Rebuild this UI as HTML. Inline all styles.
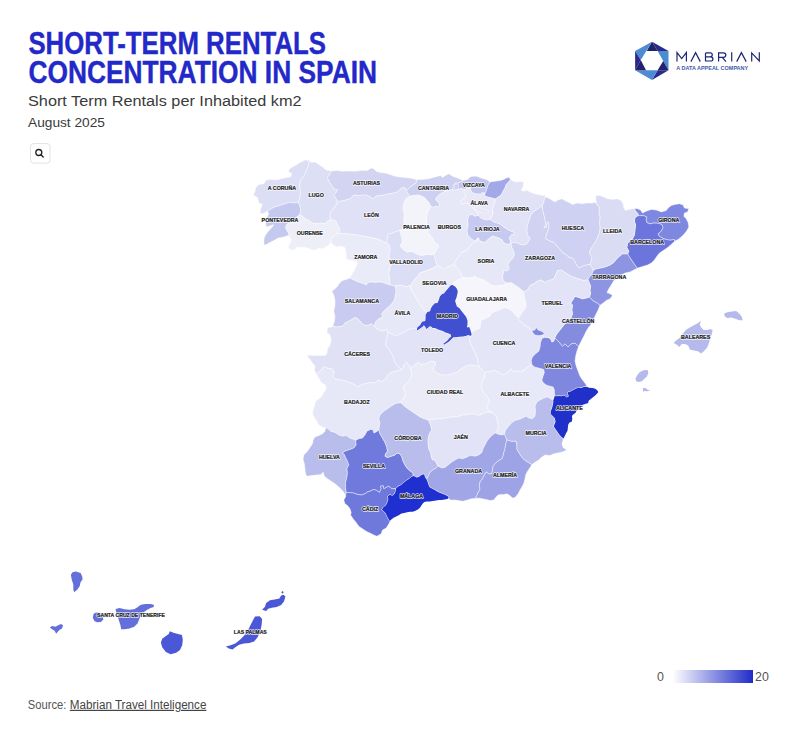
<!DOCTYPE html>
<html lang="en">
<head>
<meta charset="utf-8">
<title>Short-term rentals concentration in Spain</title>
<style>
html,body{margin:0;padding:0;background:#fff;}
body{width:800px;height:738px;overflow:hidden;position:relative;font-family:"Liberation Sans",sans-serif;}
svg{position:absolute;left:0;top:0;display:block;}
svg text{font-family:"Liberation Sans",sans-serif;}
.prov path{stroke:#fff;stroke-width:0.5;stroke-opacity:.85;stroke-linejoin:round;}
.prov path.dk{stroke-width:0.9;paint-order:stroke fill;}
.isl path{stroke:none;}
.lab text{font-size:6.1px;font-weight:700;text-anchor:middle;stroke-linejoin:round;}
.halo text{fill:#fff;stroke:#fff;stroke-width:1.7px;opacity:.8;}
.ink text{fill:#161616;stroke:#161616;stroke-width:.18px;}
</style>
</head>
<body>
<svg width="800" height="738" viewBox="0 0 800 738">
<defs>
<linearGradient id="lg" x1="0" x2="1" y1="0" y2="0">
<stop offset="0" stop-color="#ffffff"/><stop offset="1" stop-color="#1f2cc8"/>
</linearGradient>
</defs>
<!-- header -->
<g id="hdr">
<text id="t1" stroke="#2328c9" stroke-width="0.4" x="28.4" y="53.9" font-size="32" font-weight="700" fill="#2328c9" textLength="297.6" lengthAdjust="spacingAndGlyphs">SHORT-TERM RENTALS</text>
<text id="t2" stroke="#2328c9" stroke-width="0.4" x="28.4" y="82.8" font-size="32" font-weight="700" fill="#2328c9" textLength="348.6" lengthAdjust="spacingAndGlyphs">CONCENTRATION IN SPAIN</text>
<text id="t3" x="28" y="105.6" font-size="15.2" fill="#3a3a3a" textLength="273.5" lengthAdjust="spacingAndGlyphs">Short Term Rentals per Inhabited km2</text>
<text id="t4" x="28" y="126.6" font-size="12.6" fill="#3a3a3a" textLength="77" lengthAdjust="spacingAndGlyphs">August 2025</text>
</g>
<!-- search button -->
<g id="srch">
<rect x="30.5" y="143.6" width="19.5" height="19.5" rx="3" fill="#fff" stroke="#e2e2e2" stroke-width="1"/>
<circle cx="38.8" cy="152.5" r="3" fill="none" stroke="#222" stroke-width="1.3"/>
<path d="M41 154.8L43.2 156.9" stroke="#222" stroke-width="1.4" stroke-linecap="round"/>
</g>
<!-- logo -->
<g id="logo">
<polygon points="635.1,51.1 652,41.75 640.75,60.1" fill="#4d8bd3"/>
<polygon points="652,41.75 646.75,51.1 657.6,51.1" fill="#23236c"/>
<polygon points="652,41.75 668.5,51.1 657.6,51.1" fill="#2a2a8e"/>
<polygon points="657.6,51.1 668.5,51.1 668.5,70.25" fill="#4d8bd3"/>
<polygon points="663.25,60.9 668.5,70.25 657.6,70.25" fill="#23236c"/>
<polygon points="668.5,70.25 652,80 657.6,70.25" fill="#2a2a8e"/>
<polygon points="652,80 635.1,70.25 657.6,70.25" fill="#4d8bd3"/>
<polygon points="646,70.25 635.1,70.25 640.75,60.1" fill="#23236c"/>
<polygon points="635.1,70.25 635.1,51.1 640.75,60.1" fill="#2a2a8e"/>
<g fill="none" stroke="#1b2774" stroke-width="1.2" stroke-linejoin="miter" stroke-linecap="butt">
<path d="M677 61.6V52.6L681.7 58.6L686.4 52.6V61.6"/>
<path d="M690.9 61.6L695.6 52.6L700.3 61.6"/>
<path d="M705.5 52.9V61H710.6Q712.9 61 712.9 58.9Q712.9 56.8 710.6 56.8H705.5M705.5 52.9H710.2Q712.3 52.9 712.3 54.85Q712.3 56.8 710.2 56.8"/>
<path d="M718.6 61.6V52.9H723.4Q725.8 52.9 725.8 55.1Q725.8 57.3 723.4 57.3H718.6M722.3 57.3L726 61.6"/>
<path d="M731.7 52.3V61.6"/>
<path d="M736.7 61.6L741.4 52.6L746.2 61.6"/>
<path d="M751.7 61.6V52.9L759.3 61V52.3"/>
</g>
<text x="676.2" y="70" font-size="5.2" font-weight="700" fill="#3f5aa6" textLength="72" lengthAdjust="spacingAndGlyphs">A DATA APPEAL COMPANY</text>
</g>
<!-- map -->
<g class="prov">
<path d="M309.4,160.6 305.0,160.0 300.0,162.5 296.2,165.0 292.5,166.9 288.8,169.4 288.8,171.9 291.9,173.8 290.6,176.9 286.2,177.5 281.2,178.8 276.9,180.0 271.2,179.4 266.2,180.0 263.8,183.8 258.8,184.4 255.6,188.1 255.0,191.9 253.1,195.0 257.5,197.5 258.8,203.1 262.5,204.4 260.6,208.8 260.0,213.1 263.1,213.8 267.5,211.2 271.2,208.8 275.0,206.9 280.0,205.6 285.0,203.8 290.0,202.2 293.8,203.1 298.1,202.5 300.0,197.5 300.6,192.5 299.4,186.2 300.6,180.0 303.8,176.2 306.2,171.2 308.1,166.2Z" fill="#dcdef5"/>
<path d="M309.4,160.6 311.2,162.5 315.0,161.9 318.8,164.4 322.5,166.9 326.2,170.0 331.5,170.9 330.0,173.8 327.5,177.5 329.4,181.9 331.9,185.6 335.0,190.0 337.5,189.4 336.2,192.5 333.8,195.0 336.2,198.8 337.5,201.5 336.2,205.0 333.8,208.8 331.2,211.2 330.0,215.0 330.6,219.4 327.5,221.2 325.0,223.8 321.2,223.1 317.5,223.8 312.5,223.1 308.8,220.6 305.0,218.8 302.5,216.2 299.4,215.0 300.2,212.5 300.6,208.8 299.0,204.4 298.1,202.5 300.0,197.5 300.6,192.5 299.4,186.2 300.6,180.0 303.8,176.2 306.2,171.2 308.1,166.2Z" fill="#dddff5"/>
<path d="M267.5,211.2 271.2,208.8 275.0,206.9 280.0,205.6 285.0,203.8 290.0,202.2 293.8,203.1 298.1,202.5 299.0,204.4 300.6,208.8 300.2,212.5 299.4,215.0 296.2,217.5 291.2,221.2 286.9,224.4 285.6,227.5 286.9,230.6 288.8,233.1 288.8,235.2 283.8,236.9 278.1,238.1 273.8,240.6 268.8,243.1 264.4,245.6 263.8,241.2 264.4,236.9 266.9,233.1 270.0,229.4 271.9,227.5 273.8,224.4 271.2,225.6 266.2,226.9 265.6,221.2 267.5,216.2 268.8,213.8Z" fill="#c5c8ef"/>
<path d="M330.6,219.4 327.5,221.2 325.0,223.8 321.2,223.1 317.5,223.8 312.5,223.1 308.8,220.6 305.0,218.8 302.5,216.2 299.4,215.0 296.2,217.5 291.2,221.2 286.9,224.4 285.6,227.5 286.9,230.6 288.8,233.1 288.8,235.2 291.2,240.0 290.0,243.1 288.1,246.2 290.0,250.0 293.8,250.0 297.5,246.9 300.0,247.5 303.8,246.9 307.5,248.1 311.2,249.4 315.0,250.6 318.8,248.1 322.5,248.8 326.2,246.9 329.4,244.4 330.6,241.9 331.9,237.5 335.0,235.0 338.8,233.1 340.0,228.8 337.5,225.0 336.2,221.2 333.8,220.0Z" fill="#eeeef9"/>
<path d="M331.5,170.9 337.5,170.6 342.5,171.2 348.8,171.0 355.0,171.2 361.2,170.6 367.5,170.6 371.2,168.1 373.8,168.8 376.2,171.2 380.0,172.5 385.0,173.1 390.0,174.4 395.0,176.2 400.0,176.9 405.0,177.5 410.0,178.1 416.5,179.6 416.2,183.1 413.1,185.0 410.0,186.9 406.5,191.0 405.0,188.1 403.1,187.5 400.0,189.4 397.5,191.9 393.8,193.1 388.8,193.8 385.0,195.0 380.0,195.6 376.2,196.2 373.1,198.8 370.0,196.9 366.2,195.0 362.5,195.0 358.8,195.6 353.8,195.0 350.0,198.8 343.8,200.6 337.5,201.5 336.2,198.8 333.8,195.0 336.2,192.5 337.5,189.4 335.0,190.0 331.9,185.6 329.4,181.9 327.5,177.5 330.0,173.8Z" fill="#d2d4f2"/>
<path d="M337.5,201.5 343.8,200.6 350.0,198.8 353.8,195.0 358.8,195.6 362.5,195.0 366.2,195.0 370.0,196.9 373.1,198.8 376.2,196.2 380.0,195.6 385.0,195.0 388.8,193.8 393.8,193.1 397.5,191.9 400.0,189.4 403.1,187.5 405.0,188.1 406.5,191.0 408.1,193.8 410.0,196.2 406.2,198.8 403.8,203.8 403.1,208.8 404.4,213.8 403.8,220.0 404.4,225.0 401.9,230.0 398.8,230.6 392.5,233.1 388.8,233.8 387.5,236.2 386.9,242.5 387.0,243.0 385.0,242.5 381.2,240.6 376.2,238.8 370.0,237.5 363.8,236.2 357.5,235.0 351.2,234.4 345.0,233.8 338.8,233.1 340.0,228.8 337.5,225.0 336.2,221.2 333.8,220.0 330.6,219.4 330.0,215.0 331.2,211.2 333.8,208.8 336.2,205.0Z" fill="#e0e1f6"/>
<path d="M416.5,179.6 422.5,179.4 428.8,178.8 435.0,176.9 440.6,175.6 442.5,177.5 446.2,175.0 448.8,173.8 452.5,176.2 457.5,178.1 461.2,179.4 463.2,180.4 460.0,182.6 455.0,183.4 453.5,185.2 453.0,189.8 451.2,190.0 447.5,190.6 443.8,191.9 440.6,193.8 436.9,196.9 435.6,200.0 438.1,201.9 440.0,205.0 438.1,206.9 435.0,206.2 433.8,207.5 430.6,206.2 428.8,202.5 427.5,201.2 425.0,198.1 421.9,196.2 417.5,195.0 413.8,195.6 410.0,196.2 408.1,193.8 406.5,191.0 410.0,186.9 413.1,185.0 416.2,183.1Z" fill="#cdd0f1"/>
<path d="M463.2,180.4 465.5,180.0 468.1,179.2 470.0,177.0 473.0,176.2 476.8,176.2 480.5,177.8 484.2,178.9 487.2,180.0 490.0,181.9 488.1,185.0 486.9,188.8 485.6,192.5 484.0,195.5 485.0,193.1 482.0,192.8 480.5,194.2 476.0,193.9 472.2,192.8 470.8,190.5 470.0,187.5 468.5,188.2 464.0,189.5 461.4,188.5 456.0,190.0 451.2,190.0 453.0,189.8 453.5,185.2 455.0,183.4 460.0,182.6Z" fill="#c2c6ef"/>
<path d="M490.0,181.9 495.0,181.2 500.0,180.6 503.8,179.4 506.2,178.1 508.8,177.2 510.6,179.4 508.8,181.9 506.2,184.4 505.0,188.1 503.1,191.2 501.2,195.0 497.5,197.5 495.5,199.0 491.5,198.0 487.5,197.0 484.0,195.5 485.6,192.5 486.9,188.8 488.1,185.0Z" fill="#a3a9e8"/>
<path d="M464.0,189.5 468.5,188.2 470.0,187.5 470.8,190.5 472.2,192.8 476.0,193.9 480.5,194.2 482.0,192.8 485.0,193.1 484.0,195.5 487.5,197.0 491.5,198.0 495.5,199.0 494.4,203.8 492.5,208.8 493.1,213.8 491.2,217.5 490.5,219.5 487.5,220.0 483.8,219.4 480.0,217.5 478.8,215.6 476.0,211.0 472.0,207.0 468.0,203.5 465.0,203.0 462.0,204.5 460.0,202.0 462.0,199.5 465.0,198.0 466.0,195.0 464.0,192.5Z" fill="#e8e8f7"/>
<path d="M478.8,215.6 480.0,217.5 483.8,219.4 487.5,220.0 490.5,219.5 493.8,221.9 497.5,223.1 500.6,224.4 503.8,226.9 507.5,229.4 511.2,231.2 514.4,232.5 515.0,233.8 511.2,235.0 509.4,238.1 511.0,242.5 508.8,244.4 505.0,243.8 502.5,241.2 502.5,240.0 497.5,237.5 492.5,236.2 488.8,238.8 485.0,242.5 480.0,241.2 478.1,237.8 475.0,241.2 471.2,238.8 467.5,235.0 466.9,230.0 468.1,225.0 467.5,220.0 468.8,215.0 472.5,214.4 475.0,216.2 478.1,215.0Z" fill="#c6c9f0"/>
<path d="M510.6,179.4 513.1,181.2 516.9,181.9 521.2,181.2 523.8,182.5 523.1,186.9 521.2,190.0 523.8,191.2 526.2,190.0 530.0,191.9 535.0,193.8 540.0,195.0 543.8,195.6 545.6,195.0 545.0,196.9 544.4,198.8 543.8,202.5 542.5,205.0 542.2,205.6 540.0,207.5 536.2,210.0 533.1,212.5 530.6,215.6 529.4,220.0 527.5,225.0 526.9,230.0 527.5,235.0 530.0,238.1 528.8,241.2 526.2,244.4 521.2,245.0 517.5,243.1 513.8,242.5 511.0,242.5 509.4,238.1 511.2,235.0 515.0,233.8 514.4,232.5 511.2,231.2 507.5,229.4 503.8,226.9 500.6,224.4 497.5,223.1 493.8,221.9 490.5,219.5 491.2,217.5 493.1,213.8 492.5,208.8 494.4,203.8 495.5,199.0 497.5,197.5 501.2,195.0 503.1,191.2 505.0,188.1 506.2,184.4 508.8,181.9Z" fill="#e1e2f6"/>
<path d="M451.2,190.0 447.5,190.6 443.8,191.9 440.6,193.8 436.9,196.9 435.6,200.0 438.1,201.9 440.0,205.0 438.1,206.9 435.0,206.2 433.8,207.5 430.6,206.2 428.1,211.2 426.2,217.5 426.9,225.0 428.1,230.0 428.1,232.5 430.6,236.2 433.1,238.8 434.4,242.5 437.5,244.4 438.8,246.2 436.2,250.0 434.4,253.8 435.0,258.8 436.2,263.1 437.5,265.6 441.2,267.5 444.4,269.4 447.5,266.9 451.2,265.6 453.8,264.0 456.2,260.0 458.8,256.9 461.2,252.5 465.0,251.2 468.1,248.8 470.6,245.6 473.1,242.5 477.5,240.6 478.1,237.8 475.0,241.2 471.2,238.8 467.5,235.0 466.9,230.0 468.1,225.0 467.5,220.0 468.8,215.0 472.5,214.4 475.0,216.2 478.1,215.0 478.8,215.6 476.0,211.0 472.0,207.0 468.0,203.5 465.0,203.0 462.0,204.5 460.0,202.0 462.0,199.5 465.0,198.0 466.0,195.0 464.0,192.5 464.0,189.5 461.4,188.5 456.0,190.0Z" fill="#e6e7f7"/>
<path d="M410.0,196.2 406.2,198.8 403.8,203.8 403.1,208.8 404.4,213.8 403.8,220.0 404.4,225.0 401.9,230.0 398.8,230.6 400.0,231.2 401.2,236.2 402.5,241.2 400.0,246.2 403.8,250.0 407.5,252.5 411.2,251.2 415.0,253.1 418.8,255.0 422.5,255.6 427.5,254.4 432.5,255.0 434.4,253.8 436.2,250.0 438.8,246.2 437.5,244.4 434.4,242.5 433.1,238.8 430.6,236.2 428.1,232.5 428.1,230.0 426.9,225.0 426.2,217.5 428.1,211.2 430.6,206.2 428.8,202.5 427.5,201.2 425.0,198.1 421.9,196.2 417.5,195.0 413.8,195.6Z" fill="#f3f3fa"/>
<path d="M398.8,230.6 400.0,231.2 401.2,236.2 402.5,241.2 400.0,246.2 403.8,250.0 407.5,252.5 411.2,251.2 415.0,253.1 418.8,255.0 422.5,255.6 427.5,254.4 432.5,255.0 434.4,253.8 435.0,258.8 436.2,263.1 437.5,265.6 433.8,267.5 430.0,269.4 425.0,271.2 420.0,273.1 418.1,276.2 415.0,278.8 412.5,282.5 410.0,285.6 406.2,286.9 401.2,285.0 397.5,285.6 395.0,286.2 392.5,285.6 390.0,285.0 389.4,280.0 388.8,273.8 389.4,268.8 391.2,265.0 389.4,260.0 388.8,255.0 390.0,250.0 389.4,245.0 387.0,243.0 386.9,242.5 387.5,236.2 388.8,233.8 392.5,233.1Z" fill="#dcdef5"/>
<path d="M338.8,233.1 345.0,233.8 351.2,234.4 357.5,235.0 363.8,236.2 370.0,237.5 376.2,238.8 381.2,240.6 385.0,242.5 387.0,243.0 389.4,245.0 390.0,250.0 388.8,255.0 389.4,260.0 391.2,265.0 389.4,268.8 388.8,273.8 389.4,280.0 390.0,285.0 386.2,283.8 382.5,282.5 378.8,281.9 375.0,282.5 371.2,281.9 368.1,282.5 366.2,285.0 363.8,283.8 360.0,282.5 356.2,281.2 352.5,279.4 350.0,278.1 351.2,275.0 353.8,271.2 355.6,267.5 357.5,263.8 356.2,261.2 352.5,260.6 348.8,260.0 346.2,258.8 346.2,255.0 345.6,251.2 345.0,247.5 341.2,246.2 337.5,246.9 333.8,245.6 331.2,242.5 330.6,241.9 331.9,237.5 335.0,235.0Z" fill="#eaebf8"/>
<path d="M350.0,278.1 352.5,279.4 356.2,281.2 360.0,282.5 363.8,283.8 366.2,285.0 368.1,282.5 371.2,281.9 375.0,282.5 378.8,281.9 382.5,282.5 386.2,283.8 390.0,285.0 392.5,285.6 395.0,286.2 396.2,290.0 395.6,295.0 394.4,300.0 391.9,303.8 389.4,306.2 386.2,308.8 383.8,311.2 381.9,313.8 382.5,317.5 378.8,318.8 375.0,322.5 374.6,326.5 371.2,323.8 367.5,325.6 363.8,325.0 360.6,321.9 358.1,318.8 355.0,317.5 350.0,320.6 345.0,323.1 342.5,326.2 337.5,326.9 332.8,326.5 334.4,321.2 335.0,316.2 333.8,311.2 335.0,305.0 335.0,300.0 333.8,295.0 331.9,291.2 335.0,288.8 337.5,286.2 340.0,282.5 342.5,280.6 346.2,279.4Z" fill="#c9ccf0"/>
<path d="M395.0,286.2 397.5,285.6 401.2,285.0 406.2,286.9 410.0,285.6 411.2,290.0 413.8,293.8 416.2,298.1 418.8,302.5 421.2,306.2 423.8,310.0 426.5,311.2 427.4,312.1 425.6,314.8 425.6,317.9 425.2,320.9 422.1,321.8 420.8,324.0 419.5,325.8 417.7,327.1 416.8,329.3 417.3,330.4 417.5,330.0 414.4,328.1 411.2,328.8 407.5,330.0 403.8,332.5 400.0,333.8 396.2,336.2 392.5,334.4 388.8,332.5 387.7,332.0 386.2,329.4 382.5,331.2 377.5,329.4 374.6,326.5 375.0,322.5 378.8,318.8 382.5,317.5 381.9,313.8 383.8,311.2 386.2,308.8 389.4,306.2 391.9,303.8 394.4,300.0 395.6,295.0 396.2,290.0Z" fill="#e6e7f7"/>
<path d="M437.5,265.6 441.2,267.5 444.4,269.4 447.5,266.9 451.2,265.6 453.8,264.0 456.2,266.9 458.8,270.0 461.2,273.8 462.5,277.5 458.8,279.4 455.0,281.9 452.2,285.0 450.3,285.7 448.5,287.9 446.3,290.6 444.1,293.2 441.5,294.5 439.7,296.7 438.9,299.8 437.5,302.9 434.9,303.3 432.7,305.5 430.9,308.2 430.1,311.3 427.4,312.1 426.5,311.2 423.8,310.0 421.2,306.2 418.8,302.5 416.2,298.1 413.8,293.8 411.2,290.0 410.0,285.6 412.5,282.5 415.0,278.8 418.1,276.2 420.0,273.1 425.0,271.2 430.0,269.4 433.8,267.5Z" fill="#ebebf8"/>
<path d="M453.8,264.0 456.2,260.0 458.8,256.9 461.2,252.5 465.0,251.2 468.1,248.8 470.6,245.6 473.1,242.5 477.5,240.6 478.1,237.8 480.0,241.2 485.0,242.5 488.8,238.8 492.5,236.2 497.5,237.5 502.5,240.0 502.5,241.2 505.0,243.8 508.8,244.4 511.0,242.5 511.9,247.5 513.8,251.2 514.4,255.0 512.5,258.8 510.0,261.2 508.1,264.4 509.4,268.8 506.9,271.2 504.4,270.0 503.1,273.8 502.5,277.5 503.8,281.2 506.9,283.1 503.8,285.0 500.0,285.6 495.0,286.2 491.2,285.0 487.5,282.5 483.8,280.0 477.5,278.1 475.0,276.2 472.5,277.5 467.5,278.1 462.5,277.5 461.2,273.8 458.8,270.0 456.2,266.9Z" fill="#e7e8f7"/>
<path d="M452.2,285.0 455.0,281.9 458.8,279.4 462.5,277.5 467.5,278.1 472.5,277.5 475.0,276.2 477.5,278.1 483.8,280.0 487.5,282.5 491.2,285.0 495.0,286.2 500.0,285.6 503.8,285.0 506.9,283.1 511.2,282.5 515.0,285.0 518.8,287.5 521.9,290.0 523.8,291.9 524.4,296.2 525.6,301.2 526.2,306.2 524.4,310.0 521.9,312.5 520.0,316.2 518.1,317.5 515.0,315.0 512.5,311.2 508.8,308.8 505.0,307.5 500.0,309.4 496.2,311.2 491.2,313.1 490.0,316.2 485.0,318.8 481.2,320.0 480.6,323.8 480.0,328.1 476.2,330.0 472.5,331.5 471.7,334.6 470.6,330.6 469.2,327.1 467.0,327.5 467.5,324.0 467.5,320.5 466.2,317.0 463.9,313.9 461.3,310.8 459.5,308.2 456.9,306.4 456.0,303.8 455.1,301.1 456.5,297.6 457.3,294.1 457.8,291.4 456.9,288.8 455.1,286.6Z" fill="#f5f5fb"/>
<path d="M387.7,332.0 388.8,332.5 392.5,334.4 396.2,336.2 400.0,333.8 403.8,332.5 407.5,330.0 411.2,328.8 414.4,328.1 417.5,330.0 417.3,330.4 419.0,329.3 420.8,328.0 422.6,326.7 423.9,325.3 425.2,326.7 426.5,328.9 427.8,328.0 429.6,326.2 431.4,326.7 432.7,328.0 434.9,328.0 437.5,329.3 440.2,330.2 442.8,331.1 445.5,332.4 448.1,333.3 450.7,334.6 451.2,336.4 449.4,338.1 447.2,340.8 445.0,342.5 443.3,343.8 444.1,344.7 445.9,343.4 447.7,342.5 449.9,340.8 452.1,338.6 453.4,337.2 456.0,337.2 459.5,336.8 463.1,336.4 465.7,335.9 468.4,335.0 470.6,335.9 469.4,338.8 470.6,343.8 473.1,348.8 475.6,353.8 477.5,358.8 478.1,363.8 480.0,367.5 477.5,366.2 472.5,365.0 467.5,365.6 462.5,368.1 457.5,371.9 452.5,373.8 447.5,375.0 442.5,375.0 438.1,373.8 433.8,371.2 433.1,368.1 435.6,365.0 435.0,361.9 431.2,361.2 426.2,363.8 421.2,364.4 418.8,362.5 416.2,363.8 413.1,366.2 410.0,368.8 409.4,365.0 406.2,362.5 403.8,365.0 403.1,368.8 401.5,369.4 398.8,367.5 395.6,363.8 393.8,360.0 392.5,355.0 390.0,351.2 388.1,348.1 385.6,345.0 386.2,340.0 387.5,335.0Z" fill="#e2e3f6"/>
<path d="M332.8,326.5 337.5,326.9 342.5,326.2 345.0,323.1 350.0,320.6 355.0,317.5 358.1,318.8 360.6,321.9 363.8,325.0 367.5,325.6 371.2,323.8 374.6,326.5 377.5,329.4 382.5,331.2 386.2,329.4 387.7,332.0 387.5,335.0 386.2,340.0 385.6,345.0 388.1,348.1 390.0,351.2 392.5,355.0 393.8,360.0 395.6,363.8 398.8,367.5 401.5,369.4 396.2,371.2 391.2,372.5 387.5,375.0 386.2,378.8 381.2,381.9 378.8,380.0 375.0,383.1 370.0,382.5 365.0,383.8 361.2,385.0 357.5,386.9 355.0,385.0 351.2,383.1 346.2,381.2 341.2,380.0 335.6,379.4 332.5,376.2 334.4,372.5 331.9,368.8 327.5,368.1 323.8,366.9 320.0,371.2 316.6,374.4 314.4,370.0 315.0,366.2 312.5,363.1 309.4,358.8 306.9,355.0 312.5,355.6 318.8,355.6 325.0,355.6 326.9,353.8 327.5,348.8 330.0,345.0 331.2,340.0 330.0,335.0 326.9,332.5 327.5,328.1Z" fill="#e0e1f5"/>
<path d="M316.6,374.4 320.0,371.2 323.8,366.9 327.5,368.1 331.9,368.8 334.4,372.5 332.5,376.2 335.6,379.4 341.2,380.0 346.2,381.2 351.2,383.1 355.0,385.0 357.5,386.9 361.2,385.0 365.0,383.8 370.0,382.5 375.0,383.1 378.8,380.0 381.2,381.9 386.2,378.8 387.5,375.0 391.2,372.5 396.2,371.2 401.5,369.4 403.1,368.8 403.8,365.0 406.2,362.5 409.4,365.0 410.0,368.8 411.2,370.0 411.9,375.0 410.0,380.0 406.2,383.8 403.1,386.9 405.0,391.2 405.6,395.0 403.1,398.8 401.0,402.9 398.1,403.1 395.0,403.8 391.2,406.2 387.5,408.8 383.8,411.2 380.0,415.0 378.8,418.8 380.0,422.5 379.4,426.2 378.8,430.0 376.2,431.9 373.8,433.1 373.1,430.0 370.6,429.4 366.9,431.2 365.0,435.0 362.5,438.1 358.8,438.8 355.6,440.6 353.8,439.4 350.0,438.1 346.2,435.6 342.5,436.2 338.8,435.0 335.0,432.5 330.6,431.2 328.1,428.8 325.6,427.8 321.9,426.9 318.8,425.0 316.9,421.2 314.4,417.5 312.5,413.8 313.1,410.0 314.4,406.2 315.6,401.2 318.8,398.8 321.9,396.2 323.8,392.5 326.2,388.8 325.6,385.0 321.2,382.5 318.8,378.1Z" fill="#e6e7f7"/>
<path d="M410.0,368.8 413.1,366.2 416.2,363.8 418.8,362.5 421.2,364.4 426.2,363.8 431.2,361.2 435.0,361.9 435.6,365.0 433.1,368.1 433.8,371.2 438.1,373.8 442.5,375.0 447.5,375.0 452.5,373.8 457.5,371.9 462.5,368.1 467.5,365.6 472.5,365.0 477.5,366.2 480.0,367.5 482.5,370.0 485.0,372.5 484.4,377.5 481.9,382.5 481.2,387.5 483.1,391.2 485.6,395.0 488.8,398.8 489.4,402.5 486.9,406.2 488.1,410.0 491.9,411.9 493.1,413.1 488.1,411.9 483.8,413.1 478.8,415.6 476.2,414.4 472.5,413.8 467.5,414.4 462.5,415.0 457.5,416.9 452.5,416.9 447.5,417.5 442.5,418.8 437.5,418.8 432.5,419.4 428.5,420.2 423.8,418.8 420.0,416.9 416.2,414.4 412.5,411.9 408.8,409.4 404.4,406.2 401.0,402.9 403.1,398.8 405.6,395.0 405.0,391.2 403.1,386.9 406.2,383.8 410.0,380.0 411.9,375.0 411.2,370.0Z" fill="#ebebf8"/>
<path d="M518.1,317.5 520.0,321.2 523.8,324.4 527.5,326.9 531.2,329.4 536.2,331.9 541.2,333.8 544.4,337.2 541.9,338.8 540.6,342.5 540.0,347.5 538.8,351.2 535.6,353.8 532.5,356.9 531.2,360.6 531.9,364.4 531.2,364.4 527.5,367.5 523.8,370.0 521.2,371.9 517.5,371.2 513.8,371.9 511.2,368.8 509.4,371.2 506.2,373.8 502.5,375.0 498.8,372.5 495.0,370.6 491.2,371.2 487.5,371.9 485.0,372.5 482.5,370.0 480.0,367.5 478.1,363.8 477.5,358.8 475.6,353.8 473.1,348.8 470.6,343.8 469.4,338.8 470.6,335.9 471.7,334.6 472.5,331.5 476.2,330.0 480.0,328.1 480.6,323.8 481.2,320.0 485.0,318.8 490.0,316.2 491.2,313.1 496.2,311.2 500.0,309.4 505.0,307.5 508.8,308.8 512.5,311.2 515.0,315.0Z" fill="#e4e5f6"/>
<path d="M485.0,372.5 487.5,371.9 491.2,371.2 495.0,370.6 498.8,372.5 502.5,375.0 506.2,373.8 509.4,371.2 511.2,368.8 513.8,371.9 517.5,371.2 521.2,371.9 523.8,370.0 527.5,367.5 531.2,364.4 531.9,364.4 534.4,366.9 538.8,368.1 543.8,369.4 544.4,372.5 543.1,376.2 541.9,380.0 543.1,382.5 546.2,385.0 550.0,386.2 553.1,386.9 554.4,390.0 554.7,395.9 553.8,398.9 553.1,400.2 550.6,398.8 547.5,396.9 543.8,398.1 540.0,400.0 536.9,401.9 535.0,406.2 535.6,411.2 535.0,416.2 532.5,418.8 528.8,418.1 526.2,416.2 522.5,418.1 518.8,419.4 515.0,420.6 511.9,422.5 508.8,426.2 505.6,430.0 504.4,434.0 502.5,435.0 498.8,434.4 495.4,432.9 497.5,430.0 498.1,426.2 497.5,421.2 496.2,416.9 493.1,413.1 491.9,411.9 488.1,410.0 486.9,406.2 489.4,402.5 488.8,398.8 485.6,395.0 483.1,391.2 481.2,387.5 481.9,382.5 484.4,377.5Z" fill="#e8e9f8"/>
<path d="M325.6,427.8 328.1,428.8 330.6,431.2 335.0,432.5 338.8,435.0 342.5,436.2 346.2,435.6 350.0,438.1 353.8,439.4 355.6,440.6 356.2,445.0 353.8,448.1 350.0,449.4 345.0,451.2 342.5,453.1 344.4,454.4 345.6,457.5 347.5,461.2 348.8,465.0 346.9,468.8 347.5,472.5 346.9,477.5 345.6,482.5 345.6,487.5 346.2,492.5 345.6,496.9 344.4,493.1 341.9,490.0 338.8,486.9 335.0,483.8 331.2,481.2 327.5,478.8 324.4,476.2 323.1,471.9 321.2,474.4 316.2,475.0 311.2,475.6 306.9,476.2 305.6,473.8 305.0,468.8 304.4,463.8 303.1,459.4 303.8,455.0 307.5,451.2 310.0,447.5 312.5,443.8 313.1,440.0 315.0,436.9 318.8,435.6 322.5,433.8 325.0,431.2Z" fill="#b9bdec"/>
<path d="M355.6,440.6 358.8,438.8 362.5,438.1 365.0,435.0 366.9,431.2 370.6,429.4 373.1,430.0 373.8,433.1 376.2,431.9 378.8,430.0 380.0,433.8 382.5,438.1 385.0,442.5 386.9,447.5 387.5,451.2 385.6,453.8 385.0,456.2 387.5,457.5 391.2,456.2 395.0,455.0 396.9,453.1 400.0,453.8 401.9,456.9 403.1,461.2 405.0,465.0 407.5,468.8 410.6,471.2 413.1,473.1 413.1,475.6 413.2,476.1 411.3,477.0 408.9,478.9 406.1,480.8 403.3,483.1 401.0,485.0 398.2,486.4 396.1,488.3 395.9,488.5 391.9,488.8 388.8,486.2 386.2,487.5 383.8,488.8 383.1,485.6 380.6,486.2 381.2,488.8 379.4,492.5 376.9,490.6 373.8,489.4 370.0,491.2 367.5,491.9 365.0,493.8 361.2,495.0 357.5,494.4 353.8,493.1 350.0,492.5 346.2,492.5 345.6,487.5 345.6,482.5 346.9,477.5 347.5,472.5 346.9,468.8 348.8,465.0 347.5,461.2 345.6,457.5 344.4,454.4 342.5,453.1 345.0,451.2 350.0,449.4 353.8,448.1 356.2,445.0Z" fill="#7079dc"/>
<path d="M346.2,492.5 345.6,496.9 343.8,500.0 345.0,503.8 347.5,505.6 350.0,508.8 351.2,512.5 350.6,515.0 353.1,518.8 356.2,522.5 358.8,526.2 362.5,528.8 366.2,531.2 370.0,533.1 373.8,535.0 376.9,536.2 381.2,533.8 382.5,530.0 386.2,528.1 388.8,523.8 390.6,520.6 389.7,521.1 388.3,518.8 386.9,515.9 385.5,513.1 383.6,511.2 381.8,509.4 383.6,507.0 386.0,505.2 387.4,502.3 388.3,499.1 387.8,496.2 389.7,494.8 392.5,495.8 394.9,493.4 395.8,490.2 396.1,488.3 395.9,488.5 391.9,488.8 388.8,486.2 386.2,487.5 383.8,488.8 383.1,485.6 380.6,486.2 381.2,488.8 379.4,492.5 376.9,490.6 373.8,489.4 370.0,491.2 367.5,491.9 365.0,493.8 361.2,495.0 357.5,494.4 353.8,493.1 350.0,492.5Z" fill="#6f79db"/>
<path d="M401.0,402.9 404.4,406.2 408.8,409.4 412.5,411.9 416.2,414.4 420.0,416.9 423.8,418.8 428.5,420.2 430.6,425.0 431.9,430.0 429.4,433.8 428.1,438.8 428.1,443.8 428.8,448.8 430.6,452.5 431.2,456.2 432.5,460.0 433.8,459.4 436.2,462.5 438.1,466.2 436.2,468.1 432.5,470.0 430.0,472.5 428.5,475.6 426.6,479.4 424.9,477.0 424.4,474.7 423.0,474.2 421.1,475.2 418.8,477.0 416.4,477.5 415.0,476.6 413.2,476.1 413.1,475.6 413.1,473.1 410.6,471.2 407.5,468.8 405.0,465.0 403.1,461.2 401.9,456.9 400.0,453.8 396.9,453.1 395.0,455.0 391.2,456.2 387.5,457.5 385.0,456.2 385.6,453.8 387.5,451.2 386.9,447.5 385.0,442.5 382.5,438.1 380.0,433.8 378.8,430.0 379.4,426.2 380.0,422.5 378.8,418.8 380.0,415.0 383.8,411.2 387.5,408.8 391.2,406.2 395.0,403.8 398.1,403.1Z" fill="#b9bdec"/>
<path d="M428.5,420.2 432.5,419.4 437.5,418.8 442.5,418.8 447.5,417.5 452.5,416.9 457.5,416.9 462.5,415.0 467.5,414.4 472.5,413.8 476.2,414.4 478.8,415.6 483.8,413.1 488.1,411.9 493.1,413.1 496.2,416.9 497.5,421.2 498.1,426.2 497.5,430.0 495.4,432.9 492.5,435.0 489.4,438.1 486.9,441.2 485.0,445.0 483.1,448.8 481.9,452.5 478.8,455.0 475.0,456.2 470.0,455.6 466.2,457.5 462.5,458.8 458.8,458.1 455.0,460.0 451.2,462.5 448.1,465.0 445.0,467.5 441.9,468.1 438.1,466.2 436.2,462.5 433.8,459.4 432.5,460.0 431.2,456.2 430.6,452.5 428.8,448.8 428.1,443.8 428.1,438.8 429.4,433.8 431.9,430.0 430.6,425.0Z" fill="#e2e3f6"/>
<path d="M426.6,479.4 428.5,475.6 430.0,472.5 432.5,470.0 436.2,468.1 438.1,466.2 441.9,468.1 445.0,467.5 448.1,465.0 451.2,462.5 455.0,460.0 458.8,458.1 462.5,458.8 466.2,457.5 470.0,455.6 475.0,456.2 478.8,455.0 481.9,452.5 483.1,448.8 485.0,445.0 486.9,441.2 489.4,438.1 492.5,435.0 495.4,432.9 498.8,434.4 502.5,435.0 504.4,434.0 506.9,439.8 505.6,445.0 505.0,448.8 503.8,452.5 503.1,456.2 501.9,458.8 498.8,460.6 495.6,463.1 493.1,466.2 492.5,470.0 491.9,473.8 488.8,473.8 486.2,471.9 484.4,475.0 482.5,478.8 480.0,481.9 479.4,485.6 480.0,489.4 478.1,492.5 476.9,495.6 475.0,498.4 471.2,498.8 467.5,500.0 462.5,501.2 458.8,500.6 455.0,500.0 450.0,500.0 448.8,498.1 447.8,496.2 445.0,494.8 441.8,493.4 438.0,492.0 435.2,490.2 432.4,488.8 429.6,487.3 428.6,485.0 427.7,482.2Z" fill="#a0a6e6"/>
<path d="M506.9,439.8 511.2,441.2 516.2,441.2 516.9,445.0 516.9,449.4 518.8,452.5 521.2,456.2 523.8,459.4 527.5,461.9 531.9,464.6 530.0,467.5 527.5,471.2 525.6,475.0 525.0,478.8 523.8,483.1 521.9,486.9 520.0,490.0 518.1,493.8 515.0,497.5 512.5,498.1 510.0,495.6 506.9,493.8 503.8,494.4 500.6,494.4 498.1,495.0 495.6,497.5 493.8,500.0 490.0,500.6 486.2,499.4 482.5,498.8 478.8,498.1 475.0,498.4 476.9,495.6 478.1,492.5 480.0,489.4 479.4,485.6 480.0,481.9 482.5,478.8 484.4,475.0 486.2,471.9 488.8,473.8 491.9,473.8 492.5,470.0 493.1,466.2 495.6,463.1 498.8,460.6 501.9,458.8 503.1,456.2 503.8,452.5 505.0,448.8 505.6,445.0Z" fill="#9da3e5"/>
<path d="M504.4,434.0 505.6,430.0 508.8,426.2 511.9,422.5 515.0,420.6 518.8,419.4 522.5,418.1 526.2,416.2 528.8,418.1 532.5,418.8 535.0,416.2 535.6,411.2 535.0,406.2 536.9,401.9 540.0,400.0 543.8,398.1 547.5,396.9 550.6,398.8 553.1,400.2 553.4,401.6 552.9,404.7 552.0,408.2 550.7,411.3 550.7,413.9 552.5,415.7 554.7,417.9 555.6,421.4 554.7,424.1 553.8,426.3 555.1,428.5 556.9,431.1 559.1,434.2 561.3,436.8 563.5,438.6 561.9,443.8 563.1,447.5 566.9,450.0 562.5,451.9 557.5,453.1 553.8,453.8 550.0,455.6 545.0,455.0 541.2,457.5 538.8,460.0 535.0,462.2 531.9,464.6 527.5,461.9 523.8,459.4 521.2,456.2 518.8,452.5 516.9,449.4 516.9,445.0 516.2,441.2 511.2,441.2 506.9,439.8Z" fill="#b9bdec"/>
<path d="M554.7,395.9 554.4,390.0 553.1,386.9 550.0,386.2 546.2,385.0 543.1,382.5 541.9,380.0 543.1,376.2 544.4,372.5 543.8,369.4 538.8,368.1 534.4,366.9 531.9,364.4 531.2,360.6 532.5,356.9 535.6,353.8 538.8,351.2 540.0,347.5 540.6,342.5 541.9,338.8 544.4,337.2 548.1,337.5 550.6,338.8 551.9,341.9 553.8,341.2 554.8,337.5 556.9,340.0 560.0,343.1 562.5,346.2 565.0,343.8 568.1,346.9 571.2,343.8 575.0,343.1 578.5,346.5 576.9,351.2 575.6,356.2 575.0,361.2 576.2,366.2 578.1,371.2 580.0,376.2 582.5,380.0 585.0,383.1 587.3,386.9 583.8,387.0 581.1,387.9 578.5,387.5 575.8,388.8 573.2,390.1 570.6,391.5 567.9,392.3 567.5,394.1 568.8,395.4 568.3,396.7 566.6,397.6 565.3,396.3 563.5,395.4 561.3,396.3 559.1,395.9 556.9,396.3Z" fill="#7f87df"/>
<path d="M554.8,337.5 556.9,333.8 560.0,330.0 563.8,325.0 567.5,321.2 571.2,317.5 572.5,313.8 571.9,310.0 572.5,305.0 570.0,302.5 571.2,302.5 573.1,299.4 575.0,296.2 578.8,297.5 582.5,298.8 586.2,298.1 589.4,296.9 591.2,298.8 593.8,301.2 597.5,303.1 600.0,305.2 598.1,310.0 596.2,313.8 594.4,317.5 592.5,321.2 590.6,325.0 588.8,326.9 586.2,331.2 583.8,336.2 581.2,341.2 578.5,346.5 575.0,343.1 571.2,343.8 568.1,346.9 565.0,343.8 562.5,346.2 560.0,343.1 556.9,340.0Z" fill="#848ce0"/>
<path d="M589.4,296.9 590.6,293.8 590.0,290.0 590.6,286.2 589.4,283.1 587.9,279.8 589.4,276.9 591.9,273.8 593.1,270.6 596.2,268.8 600.0,268.1 605.0,266.9 610.0,265.0 613.8,262.5 616.2,259.4 619.4,256.2 622.5,253.8 627.8,253.8 630.0,257.5 632.5,261.2 635.0,265.0 637.5,268.1 633.8,270.0 630.0,271.9 625.0,273.1 621.2,275.0 617.5,277.5 613.8,280.6 611.2,285.0 608.8,288.8 606.9,292.5 610.0,293.8 612.5,295.6 610.0,298.8 606.2,300.6 603.8,302.5 601.2,304.4 600.0,305.2 597.5,303.1 593.8,301.2 591.2,298.8Z" fill="#8d95e3"/>
<path d="M627.8,253.8 628.8,251.2 626.9,247.5 627.5,243.1 630.0,241.2 632.5,238.8 634.4,235.0 635.0,230.0 635.6,225.0 634.4,221.2 635.0,217.5 638.1,215.6 640.0,215.6 643.8,215.6 646.9,216.9 646.2,219.4 646.9,222.5 650.0,223.8 653.8,222.8 658.1,223.1 661.9,224.4 663.1,227.5 661.2,231.2 658.1,233.8 659.4,236.2 662.5,238.1 666.2,239.4 670.0,240.0 674.4,239.4 674.8,241.0 670.6,245.0 666.9,248.1 663.1,250.6 659.4,253.1 656.9,256.2 654.4,260.0 651.2,263.1 647.5,265.0 642.5,266.5 637.5,268.1 635.0,265.0 632.5,261.2 630.0,257.5Z" fill="#6b75db"/>
<path d="M638.1,215.6 638.1,213.8 635.6,211.2 634.4,208.5 637.5,208.8 640.6,210.0 642.5,213.1 646.2,211.2 651.2,209.4 656.2,210.0 661.2,211.9 666.2,210.6 668.1,208.1 671.2,205.6 675.0,204.4 679.4,203.8 683.1,205.0 684.4,208.1 688.8,208.8 687.5,211.9 684.4,213.1 683.8,216.2 686.2,218.8 688.1,222.5 688.8,226.9 686.9,230.6 684.4,233.8 681.2,236.9 678.1,239.4 674.8,241.0 674.4,239.4 670.0,240.0 666.2,239.4 662.5,238.1 659.4,236.2 658.1,233.8 661.2,231.2 663.1,227.5 661.9,224.4 658.1,223.1 653.8,222.8 650.0,223.8 646.9,222.5 646.2,219.4 646.9,216.9 643.8,215.6 640.0,215.6Z" fill="#7f88e0"/>
<path d="M634.4,208.5 635.6,211.2 638.1,213.8 638.1,215.6 635.0,217.5 634.4,221.2 635.6,225.0 635.0,230.0 634.4,235.0 632.5,238.8 630.0,241.2 627.5,243.1 626.9,247.5 628.8,251.2 627.8,253.8 622.5,253.8 619.4,256.2 616.2,259.4 613.8,262.5 610.0,265.0 605.0,266.9 600.0,268.1 596.2,268.8 593.1,270.6 591.9,267.5 590.0,264.4 591.2,260.6 591.9,256.9 589.4,253.8 590.0,250.0 592.5,246.2 595.0,242.5 596.9,238.8 599.4,232.5 600.0,227.5 599.4,222.5 600.0,217.5 598.8,212.5 599.4,207.5 596.9,205.0 596.5,203.1 595.6,198.8 596.2,195.6 600.0,195.6 603.8,196.9 607.5,198.8 612.5,199.4 617.5,198.8 621.2,200.6 623.1,203.8 623.8,208.1 625.6,210.6 628.8,209.4 632.5,208.8Z" fill="#dadcf4"/>
<path d="M596.5,203.1 596.9,205.0 599.4,207.5 598.8,212.5 600.0,217.5 599.4,222.5 600.0,227.5 599.4,232.5 596.9,238.8 595.0,242.5 592.5,246.2 590.0,250.0 589.4,253.8 591.9,256.9 591.2,260.6 590.0,264.4 586.2,265.0 582.5,266.2 578.8,268.1 576.9,265.6 575.0,261.9 572.5,258.1 569.4,257.5 566.2,255.0 562.5,252.5 559.4,248.8 556.2,245.0 553.8,242.5 550.0,241.2 545.6,238.8 546.2,235.0 548.1,230.0 548.8,227.5 548.8,222.5 547.5,221.9 546.2,227.5 543.8,227.5 545.6,224.4 545.0,220.0 543.8,215.0 542.5,210.0 542.2,205.6 542.5,205.0 543.8,202.5 544.4,198.8 545.0,196.9 548.8,198.1 552.5,200.6 555.0,201.9 558.1,200.0 561.9,198.8 565.0,200.6 570.0,203.1 572.5,204.4 577.5,203.1 582.5,203.8 586.2,203.1 591.2,203.1 595.0,202.5Z" fill="#cfd1f2"/>
<path d="M542.2,205.6 542.5,210.0 543.8,215.0 545.0,220.0 545.6,224.4 543.8,227.5 546.2,227.5 547.5,221.9 548.8,222.5 548.8,227.5 548.1,230.0 546.2,235.0 545.6,238.8 550.0,241.2 553.8,242.5 556.2,245.0 559.4,248.8 562.5,252.5 566.2,255.0 569.4,257.5 572.5,258.1 575.0,261.9 576.9,265.6 578.8,268.1 582.5,266.2 586.2,265.0 590.0,264.4 591.9,267.5 593.1,270.6 591.9,273.8 589.4,276.9 587.9,279.8 583.8,280.6 580.0,279.4 576.2,278.1 572.5,276.9 568.8,275.0 565.0,272.5 561.2,270.0 557.5,270.6 556.2,273.8 553.8,278.8 552.5,279.4 548.8,280.6 545.0,282.5 541.2,280.0 537.5,281.2 533.8,283.8 530.0,285.6 527.5,290.0 523.8,291.9 521.9,290.0 518.8,287.5 515.0,285.0 511.2,282.5 506.9,283.1 503.8,281.2 502.5,277.5 503.1,273.8 504.4,270.0 506.9,271.2 509.4,268.8 508.1,264.4 510.0,261.2 512.5,258.8 514.4,255.0 513.8,251.2 511.9,247.5 511.0,242.5 513.8,242.5 517.5,243.1 521.2,245.0 526.2,244.4 528.8,241.2 530.0,238.1 527.5,235.0 526.9,230.0 527.5,225.0 529.4,220.0 530.6,215.6 533.1,212.5 536.2,210.0 540.0,207.5Z" fill="#d0d2f2"/>
<path d="M523.8,291.9 527.5,290.0 530.0,285.6 533.8,283.8 537.5,281.2 541.2,280.0 545.0,282.5 548.8,280.6 552.5,279.4 553.8,278.8 556.2,273.8 557.5,270.6 561.2,270.0 565.0,272.5 568.8,275.0 572.5,276.9 576.2,278.1 580.0,279.4 583.8,280.6 587.9,279.8 589.4,283.1 590.6,286.2 590.0,290.0 590.6,293.8 589.4,296.9 586.2,298.1 582.5,298.8 578.8,297.5 575.0,296.2 573.1,299.4 571.2,302.5 570.0,302.5 572.5,305.0 571.9,310.0 572.5,313.8 571.2,317.5 567.5,321.2 563.8,325.0 560.0,330.0 556.9,333.8 554.8,337.5 553.8,341.2 551.9,341.9 550.6,338.8 548.1,337.5 544.4,337.2 541.2,333.8 536.2,331.9 531.2,329.4 527.5,326.9 523.8,324.4 520.0,321.2 518.1,317.5 520.0,316.2 521.9,312.5 524.4,310.0 526.2,306.2 525.6,301.2 524.4,296.2Z" fill="#e2e3f6"/>
<path class="dk" d="M452.1,284.8 450.3,285.7 448.5,287.9 446.3,290.6 444.1,293.2 441.5,294.5 439.7,296.7 438.9,299.8 437.5,302.9 434.9,303.3 432.7,305.5 430.9,308.2 430.1,311.3 427.4,312.1 425.6,314.8 425.6,317.9 425.2,320.9 422.1,321.8 420.8,324.0 419.5,325.8 417.7,327.1 416.8,329.3 417.3,330.4 419.0,329.3 420.8,328.0 422.6,326.7 423.9,325.3 425.2,326.7 426.5,328.9 427.8,328.0 429.6,326.2 431.4,326.7 432.7,328.0 434.9,328.0 437.5,329.3 440.2,330.2 442.8,331.1 445.5,332.4 448.1,333.3 450.7,334.6 451.2,336.4 449.4,338.1 447.2,340.8 445.0,342.5 443.3,343.8 444.1,344.7 445.9,343.4 447.7,342.5 449.9,340.8 452.1,338.6 453.4,337.2 456.0,337.2 459.5,336.8 463.1,336.4 465.7,335.9 468.4,335.0 470.6,335.9 471.7,334.6 470.6,330.6 469.2,327.1 467.0,327.5 467.5,324.0 467.5,320.5 466.2,317.0 463.9,313.9 461.3,310.8 459.5,308.2 456.9,306.4 456.0,303.8 455.1,301.1 456.5,297.6 457.3,294.1 457.8,291.4 456.9,288.8 455.1,286.6Z" fill="#4050d0"/>
<path class="dk" d="M396.1,488.3 398.2,486.4 401.0,485.0 403.3,483.1 406.1,480.8 408.9,478.9 411.3,477.0 413.2,476.1 415.0,476.6 416.4,477.5 418.8,477.0 421.1,475.2 423.0,474.2 424.4,474.7 424.9,477.0 426.6,479.4 427.7,482.2 428.6,485.0 429.6,487.3 432.4,488.8 435.2,490.2 438.0,492.0 441.8,493.4 445.0,494.8 447.8,496.2 448.8,498.1 447.4,499.1 444.6,499.5 441.8,500.0 438.9,500.0 436.1,500.5 432.8,500.9 429.6,501.4 426.8,501.4 424.4,501.9 422.5,503.8 421.1,506.1 419.7,508.0 417.8,509.4 415.5,510.8 412.7,511.7 409.9,511.7 407.1,512.2 404.2,513.1 401.4,513.6 399.1,515.0 396.3,516.4 393.5,517.8 391.1,519.7 389.7,521.1 388.3,518.8 386.9,515.9 385.5,513.1 383.6,511.2 381.8,509.4 383.6,507.0 386.0,505.2 387.4,502.3 388.3,499.1 387.8,496.2 389.7,494.8 392.5,495.8 394.9,493.4 395.8,490.2Z" fill="#2030d0"/>
<path class="dk" d="M553.1,400.2 553.8,398.9 554.7,395.9 556.9,396.3 559.1,395.9 561.3,396.3 563.5,395.4 565.3,396.3 566.6,397.6 568.3,396.7 568.8,395.4 567.5,394.1 567.9,392.3 570.6,391.5 573.2,390.1 575.8,388.8 578.5,387.5 581.1,387.9 583.8,387.0 587.3,386.9 589.1,387.8 592.6,388.1 595.2,388.8 597.0,390.1 598.3,391.9 597.4,393.2 595.2,395.4 593.0,397.2 590.8,398.9 588.6,400.7 588.2,403.1 586.0,403.8 582.9,404.7 580.2,406.4 577.6,409.1 576.3,411.3 575.4,413.0 573.2,414.4 571.9,416.1 572.3,418.8 571.9,421.4 569.2,422.7 568.1,424.9 567.9,427.6 567.5,430.7 566.1,433.3 564.8,435.9 563.5,438.6 561.3,436.8 559.1,434.2 556.9,431.1 555.1,428.5 553.8,426.3 554.7,424.1 555.6,421.4 554.7,417.9 552.5,415.7 550.7,413.9 550.7,411.3 552.0,408.2 552.9,404.7 553.4,401.6Z" fill="#2030c8"/>
<path d="M531.9,330.6 535.0,330.0 536.2,327.5 538.1,330.0 541.2,331.2 544.4,333.1 542.5,335.0 538.8,335.6 535.0,335.0 533.1,333.1Z" fill="#7f87df"/>
<path d="M474.0,207.0 479.0,207.0 484.0,209.5 489.0,211.0 486.5,213.5 481.0,212.5 476.0,210.0Z" fill="#e6e7f7"/>
<path d="M454.5,184.3 458.3,183.8 458.6,188.8 455.0,189.8Z" fill="#cdd0f1"/>
</g>
<g class="isl">
<path d="M673.6,343.1 676.1,340.6 679.3,338.2 682.6,334.1 685.8,330.1 689.9,327.6 693.9,325.2 697.2,323.6 701.2,321.1 699.6,324.4 701.2,327.6 703.7,330.1 707.8,330.1 710.2,328.9 712.6,330.1 711.8,334.1 710.2,339.0 708.6,343.9 706.9,347.9 703.7,351.2 701.2,353.6 698.0,351.2 693.9,350.4 689.9,349.6 688.2,345.5 685.0,343.9 681.8,343.9 679.3,347.1 676.9,344.7Z" fill="#b5b9eb"/>
<path d="M724.0,313.8 727.2,312.2 732.1,311.4 736.2,311.1 739.4,313.8 741.9,317.1 742.7,320.3 739.4,320.3 735.4,318.7 731.3,317.6 727.2,317.9 724.8,316.2Z" fill="#b5b9eb"/>
<path d="M635.4,378.8 637.1,375.6 639.5,372.3 643.6,370.2 647.6,369.9 648.4,373.1 646.8,376.4 644.4,378.8 641.9,381.2 638.7,382.1 636.2,381.2Z" fill="#b5b9eb"/>
<path d="M642.8,388.6 645.2,387.8 647.6,389.7 650.1,390.2 647.6,391.3 644.4,391.0 643.1,391.8Z" fill="#b5b9eb"/>
<path d="M70.9,574.8 72.5,572.3 75.8,571.5 80.6,573.1 82.2,576.4 82.6,579.6 80.6,582.1 79.8,586.1 77.4,589.4 74.1,592.3 73.3,589.4 73.3,584.5 71.7,579.6Z" fill="#6470da"/>
<path d="M92.8,617.8 93.6,613.8 96.1,612.5 100.1,612.9 102.6,616.2 103.4,619.4 100.9,621.9 96.9,622.2 94.4,621.1Z" fill="#6470da"/>
<path d="M115.6,608.9 119.6,608.1 124.5,609.2 129.4,609.7 134.2,609.2 137.5,607.2 140.8,604.8 145.6,604.0 150.5,604.0 153.8,604.8 153.8,606.9 150.5,608.1 147.2,609.7 144.0,612.1 140.8,615.4 139.1,619.4 137.5,623.5 134.2,626.8 129.4,628.4 124.5,629.2 121.2,629.2 120.4,625.1 118.8,620.2 117.2,614.6 116.0,611.3Z" fill="#6470da"/>
<path d="M49.8,627.6 52.2,625.9 55.4,626.8 58.7,625.1 61.1,624.0 63.1,625.5 61.9,628.4 59.5,630.0 57.1,632.4 56.2,633.7 54.6,630.8 52.2,629.2Z" fill="#6470da"/>
<path d="M169.7,631.2 173.4,632.8 178.1,634.1 181.9,635.0 182.8,639.7 182.2,645.3 180.0,650.0 176.2,652.8 170.6,654.3 165.9,651.9 162.2,647.2 160.9,642.5 162.2,638.8 165.9,635.9 168.8,634.1Z" fill="#4a57d6"/>
<path d="M225.9,646.6 230.6,645.3 235.3,643.4 240.0,639.7 243.8,635.9 247.5,631.2 250.3,625.6 253.1,620.0 255.0,616.6 259.7,616.2 262.1,619.1 261.6,624.7 260.6,630.3 257.8,636.9 254.1,641.6 249.4,642.9 243.8,643.4 239.1,644.8 235.3,647.2 232.5,649.4 228.8,648.5Z" fill="#4a57d6"/>
<path d="M262.1,609.7 264.8,606.9 266.2,603.1 270.0,600.3 274.7,599.4 279.4,598.4 281.2,595.6 283.5,594.7 285.4,596.6 284.1,601.2 281.2,605.0 276.6,606.9 271.9,607.8 268.1,608.8 266.2,611.0Z" fill="#4a57d6"/>
<path d="M281.2,592.2 282.8,591.1 283.7,592.2 282.4,593.8Z" fill="#4a57d6"/>
</g>
<g class="lab halo">
<text transform="translate(281.9 189.6) scale(0.870 1)">A CORUÑA</text>
<text transform="translate(316.2 197.4) scale(0.870 1)">LUGO</text>
<text transform="translate(280.0 222.1) scale(0.870 1)">PONTEVEDRA</text>
<text transform="translate(309.8 235.3) scale(0.870 1)">OURENSE</text>
<text transform="translate(366.5 184.9) scale(0.870 1)">ASTURIAS</text>
<text transform="translate(371.4 216.8) scale(0.870 1)">LEÓN</text>
<text transform="translate(416.5 228.9) scale(0.870 1)">PALENCIA</text>
<text transform="translate(433.5 189.6) scale(0.870 1)">CANTABRIA</text>
<text transform="translate(449.4 228.9) scale(0.870 1)">BURGOS</text>
<text transform="translate(473.8 186.7) scale(0.870 1)">VIZCAYA</text>
<text transform="translate(479.1 204.9) scale(0.870 1)">ÁLAVA</text>
<text transform="translate(487.4 231.3) scale(0.870 1)">LA RIOJA</text>
<text transform="translate(516.5 211.2) scale(0.870 1)">NAVARRA</text>
<text transform="translate(572.9 229.7) scale(0.870 1)">HUESCA</text>
<text transform="translate(612.5 232.8) scale(0.870 1)">LLEIDA</text>
<text transform="translate(668.8 222.1) scale(0.870 1)">GIRONA</text>
<text transform="translate(647.2 243.7) scale(0.870 1)">BARCELONA</text>
<text transform="translate(609.2 279.2) scale(0.870 1)">TARRAGONA</text>
<text transform="translate(365.8 259.1) scale(0.870 1)">ZAMORA</text>
<text transform="translate(406.0 263.8) scale(0.870 1)">VALLADOLID</text>
<text transform="translate(361.9 303.1) scale(0.870 1)">SALAMANCA</text>
<text transform="translate(402.4 314.6) scale(0.870 1)">ÁVILA</text>
<text transform="translate(434.4 285.3) scale(0.870 1)">SEGOVIA</text>
<text transform="translate(486.0 262.9) scale(0.870 1)">SORIA</text>
<text transform="translate(486.6 301.4) scale(0.870 1)">GUADALAJARA</text>
<text transform="translate(447.4 317.8) scale(0.870 1)">MADRID</text>
<text transform="translate(540.1 259.9) scale(0.870 1)">ZARAGOZA</text>
<text transform="translate(552.1 304.6) scale(0.870 1)">TERUEL</text>
<text transform="translate(578.2 323.3) scale(0.870 1)">CASTELLÓN</text>
<text transform="translate(504.0 344.9) scale(0.870 1)">CUENCA</text>
<text transform="translate(432.1 351.8) scale(0.870 1)">TOLEDO</text>
<text transform="translate(357.1 355.7) scale(0.870 1)">CÁCERES</text>
<text transform="translate(558.1 368.1) scale(0.870 1)">VALENCIA</text>
<text transform="translate(356.9 404.4) scale(0.870 1)">BADAJOZ</text>
<text transform="translate(445.1 394.3) scale(0.870 1)">CIUDAD REAL</text>
<text transform="translate(514.9 395.9) scale(0.870 1)">ALBACETE</text>
<text transform="translate(569.4 409.9) scale(0.870 1)">ALICANTE</text>
<text transform="translate(536.1 435.3) scale(0.870 1)">MURCIA</text>
<text transform="translate(408.0 439.8) scale(0.870 1)">CÓRDOBA</text>
<text transform="translate(460.8 439.1) scale(0.870 1)">JAÉN</text>
<text transform="translate(329.4 459.3) scale(0.870 1)">HUELVA</text>
<text transform="translate(373.9 467.8) scale(0.870 1)">SEVILLA</text>
<text transform="translate(468.5 472.8) scale(0.870 1)">GRANADA</text>
<text transform="translate(505.0 476.8) scale(0.870 1)">ALMERÍA</text>
<text transform="translate(411.5 497.8) scale(0.870 1)">MÁLAGA</text>
<text transform="translate(370.1 510.9) scale(0.870 1)">CÁDIZ</text>
<text transform="translate(695.6 339.3) scale(0.870 1)">BALEARES</text>
<text transform="translate(131.0 616.7) scale(0.840 1)">SANTA CRUZ DE TENERIFE</text>
<text transform="translate(250.3 634.4) scale(0.840 1)">LAS PALMAS</text>
</g>
<g class="lab ink">
<text transform="translate(281.9 189.6) scale(0.870 1)">A CORUÑA</text>
<text transform="translate(316.2 197.4) scale(0.870 1)">LUGO</text>
<text transform="translate(280.0 222.1) scale(0.870 1)">PONTEVEDRA</text>
<text transform="translate(309.8 235.3) scale(0.870 1)">OURENSE</text>
<text transform="translate(366.5 184.9) scale(0.870 1)">ASTURIAS</text>
<text transform="translate(371.4 216.8) scale(0.870 1)">LEÓN</text>
<text transform="translate(416.5 228.9) scale(0.870 1)">PALENCIA</text>
<text transform="translate(433.5 189.6) scale(0.870 1)">CANTABRIA</text>
<text transform="translate(449.4 228.9) scale(0.870 1)">BURGOS</text>
<text transform="translate(473.8 186.7) scale(0.870 1)">VIZCAYA</text>
<text transform="translate(479.1 204.9) scale(0.870 1)">ÁLAVA</text>
<text transform="translate(487.4 231.3) scale(0.870 1)">LA RIOJA</text>
<text transform="translate(516.5 211.2) scale(0.870 1)">NAVARRA</text>
<text transform="translate(572.9 229.7) scale(0.870 1)">HUESCA</text>
<text transform="translate(612.5 232.8) scale(0.870 1)">LLEIDA</text>
<text transform="translate(668.8 222.1) scale(0.870 1)">GIRONA</text>
<text transform="translate(647.2 243.7) scale(0.870 1)">BARCELONA</text>
<text transform="translate(609.2 279.2) scale(0.870 1)">TARRAGONA</text>
<text transform="translate(365.8 259.1) scale(0.870 1)">ZAMORA</text>
<text transform="translate(406.0 263.8) scale(0.870 1)">VALLADOLID</text>
<text transform="translate(361.9 303.1) scale(0.870 1)">SALAMANCA</text>
<text transform="translate(402.4 314.6) scale(0.870 1)">ÁVILA</text>
<text transform="translate(434.4 285.3) scale(0.870 1)">SEGOVIA</text>
<text transform="translate(486.0 262.9) scale(0.870 1)">SORIA</text>
<text transform="translate(486.6 301.4) scale(0.870 1)">GUADALAJARA</text>
<text transform="translate(447.4 317.8) scale(0.870 1)">MADRID</text>
<text transform="translate(540.1 259.9) scale(0.870 1)">ZARAGOZA</text>
<text transform="translate(552.1 304.6) scale(0.870 1)">TERUEL</text>
<text transform="translate(578.2 323.3) scale(0.870 1)">CASTELLÓN</text>
<text transform="translate(504.0 344.9) scale(0.870 1)">CUENCA</text>
<text transform="translate(432.1 351.8) scale(0.870 1)">TOLEDO</text>
<text transform="translate(357.1 355.7) scale(0.870 1)">CÁCERES</text>
<text transform="translate(558.1 368.1) scale(0.870 1)">VALENCIA</text>
<text transform="translate(356.9 404.4) scale(0.870 1)">BADAJOZ</text>
<text transform="translate(445.1 394.3) scale(0.870 1)">CIUDAD REAL</text>
<text transform="translate(514.9 395.9) scale(0.870 1)">ALBACETE</text>
<text transform="translate(569.4 409.9) scale(0.870 1)">ALICANTE</text>
<text transform="translate(536.1 435.3) scale(0.870 1)">MURCIA</text>
<text transform="translate(408.0 439.8) scale(0.870 1)">CÓRDOBA</text>
<text transform="translate(460.8 439.1) scale(0.870 1)">JAÉN</text>
<text transform="translate(329.4 459.3) scale(0.870 1)">HUELVA</text>
<text transform="translate(373.9 467.8) scale(0.870 1)">SEVILLA</text>
<text transform="translate(468.5 472.8) scale(0.870 1)">GRANADA</text>
<text transform="translate(505.0 476.8) scale(0.870 1)">ALMERÍA</text>
<text transform="translate(411.5 497.8) scale(0.870 1)">MÁLAGA</text>
<text transform="translate(370.1 510.9) scale(0.870 1)">CÁDIZ</text>
<text transform="translate(695.6 339.3) scale(0.870 1)">BALEARES</text>
<text transform="translate(131.0 616.7) scale(0.840 1)">SANTA CRUZ DE TENERIFE</text>
<text transform="translate(250.3 634.4) scale(0.840 1)">LAS PALMAS</text>
</g>
<!-- legend -->
<g id="leg">
<rect x="672.5" y="670" width="80.5" height="13" fill="url(#lg)"/>
<text x="657" y="681.3" font-size="12.4" fill="#555">0</text>
<text x="755" y="681.3" font-size="12.4" fill="#555">20</text>
</g>
<!-- footer -->
<g id="ftr">
<text x="27.8" y="708.8" font-size="12" fill="#555" textLength="38.6" lengthAdjust="spacingAndGlyphs">Source:</text>
<text x="69.8" y="708.8" font-size="12" fill="#444" text-decoration="underline" textLength="136.6" lengthAdjust="spacingAndGlyphs">Mabrian Travel Inteligence</text>
</g>
</svg>
</body>
</html>
